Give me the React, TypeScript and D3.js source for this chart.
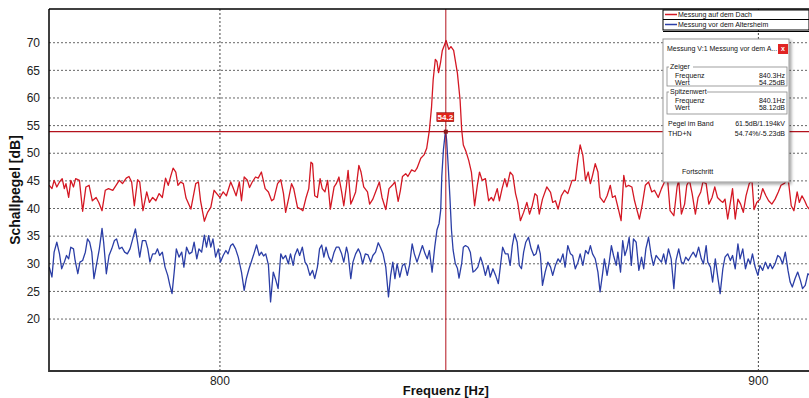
import * as d3 from "d3";

// Frequenzachse und Pegelachse
const freqTicks = [800, 900];
const levelTicks = [20, 25, 30, 35, 40, 45, 50, 55, 60, 65, 70];

const seriesNames = ["Messung auf dem Dach", "Messung vor dem Altersheim"];
const seriesColors = ["#d41824", "#2b3ea6"];

// Messung auf dem Dach  [Hz, dB]
const dach: [number, number][] = [
  [768.3, 44.2], [768.8, 43.6], [769.2, 45.1], [769.7, 43.9], [770.2, 44.8], [770.7, 45.4], [771.1, 43.6], [771.4, 44.5],
  [771.9, 42.0], [772.3, 45.1], [772.8, 43.9], [773.2, 45.4], [773.9, 45.1], [774.5, 39.5], [775.1, 43.9], [775.7, 44.2],
  [776.3, 41.4], [777.0, 42.0], [777.5, 41.1], [778.1, 39.6], [778.7, 43.3], [779.3, 43.6], [780.1, 43.3], [780.7, 44.2],
  [781.3, 45.1], [781.9, 44.5], [782.6, 45.5], [783.1, 45.8], [783.6, 44.8], [784.1, 40.5], [784.7, 45.2], [785.1, 44.8],
  [785.7, 39.6], [786.4, 43.0], [786.9, 41.1], [787.5, 42.0], [788.1, 41.4], [788.7, 42.7], [789.3, 42.0], [789.9, 45.5],
  [790.4, 44.2], [790.9, 46.0], [791.3, 47.3], [791.8, 46.6], [792.2, 44.2], [792.7, 44.8], [793.2, 44.5], [793.7, 41.9],
  [794.6, 39.9], [795.5, 44.5], [796.0, 44.8], [796.4, 41.4], [797.1, 37.7], [797.7, 39.3], [798.3, 40.2], [798.9, 43.3],
  [799.4, 42.7], [800.0, 42.0], [800.6, 43.0], [801.2, 42.3], [802.0, 44.8], [802.5, 43.6], [803.0, 42.3], [803.6, 44.8],
  [804.0, 41.4], [804.5, 45.7], [805.1, 45.1], [805.5, 43.8], [806.0, 44.8], [806.6, 45.7], [807.1, 45.5], [807.7, 46.6],
  [808.4, 43.6], [809.0, 43.0], [809.6, 41.4], [810.0, 41.7], [810.7, 44.5], [811.3, 45.2], [811.8, 42.7], [812.2, 39.3],
  [812.8, 42.0], [813.3, 44.5], [813.7, 43.6], [814.4, 40.2], [815.0, 39.9], [815.4, 39.6], [816.0, 42.0], [816.5, 43.6],
  [816.9, 48.4], [817.2, 48.1], [817.6, 42.3], [818.1, 42.0], [818.6, 45.4], [819.0, 43.6], [819.5, 43.0], [820.0, 45.1],
  [820.5, 39.9], [821.2, 43.9], [821.6, 44.5], [822.1, 45.7], [822.6, 43.0], [823.0, 40.5], [823.5, 44.2], [823.8, 46.9],
  [824.3, 40.8], [824.7, 41.7], [825.2, 43.0], [825.8, 47.8], [826.2, 46.6], [826.7, 43.9], [827.4, 43.0], [827.8, 40.8],
  [828.4, 41.7], [828.9, 43.0], [829.6, 44.8], [830.1, 42.0], [830.8, 39.8], [831.4, 43.6], [832.0, 44.2], [832.5, 44.8],
  [833.1, 41.3], [833.5, 43.2], [833.9, 45.8], [834.5, 46.3], [834.9, 45.8], [835.6, 47.0], [836.2, 46.7], [836.6, 47.3],
  [837.3, 49.1], [837.9, 49.7], [838.4, 50.9], [838.9, 54.2], [839.3, 58.4], [839.6, 63.3], [840.0, 67.0], [840.3, 66.6],
  [840.6, 64.6], [841.0, 66.6], [841.3, 68.6], [841.7, 69.6], [842.0, 70.4], [842.5, 68.8], [842.9, 69.3], [843.4, 68.6],
  [844.1, 64.5], [844.6, 59.6], [844.9, 54.2], [845.2, 51.5], [845.7, 50.3], [846.2, 48.7], [846.7, 46.6], [847.3, 40.5],
  [847.8, 44.2], [848.2, 46.6], [848.7, 45.1], [849.3, 45.4], [849.9, 41.4], [850.4, 42.0], [850.8, 41.4], [851.5, 43.6],
  [851.9, 41.4], [852.4, 43.6], [852.9, 45.4], [853.3, 43.9], [853.9, 46.6], [854.4, 46.0], [854.9, 42.7], [855.3, 41.1],
  [855.8, 37.8], [856.4, 39.3], [857.0, 41.1], [857.5, 39.0], [858.0, 40.5], [858.5, 42.7], [858.9, 42.3], [859.3, 39.0],
  [859.9, 41.7], [860.7, 43.9], [861.4, 42.9], [861.8, 41.1], [862.3, 41.4], [862.8, 39.9], [863.4, 42.3], [864.0, 43.3],
  [864.6, 42.7], [865.4, 45.1], [866.0, 45.1], [866.5, 49.0], [866.9, 51.5], [867.4, 49.6], [867.9, 45.1], [868.4, 46.6],
  [868.8, 44.5], [869.2, 46.0], [869.7, 48.1], [870.2, 46.6], [870.6, 42.0], [871.3, 41.1], [871.9, 42.3], [872.5, 44.2],
  [872.9, 42.0], [873.4, 42.3], [874.0, 39.9], [874.5, 37.8], [875.0, 46.0], [875.4, 43.9], [875.9, 44.2], [876.5, 43.9],
  [877.0, 41.4], [877.4, 39.9], [877.9, 38.1], [878.4, 40.5], [879.0, 44.2], [879.6, 44.8], [880.2, 43.0], [880.7, 43.3],
  [881.4, 42.0], [882.0, 43.6], [882.6, 44.9], [883.1, 45.7], [883.6, 39.6], [884.3, 38.7], [884.9, 43.9], [885.2, 45.1],
  [885.7, 39.0], [886.3, 40.8], [886.7, 44.2], [887.2, 45.1], [887.7, 42.7], [888.3, 39.0], [888.8, 42.0], [889.3, 43.0],
  [889.7, 44.8], [890.3, 44.5], [890.8, 40.8], [891.4, 42.0], [891.9, 43.9], [892.4, 42.0], [893.0, 41.4], [893.4, 41.1],
  [893.8, 41.7], [894.3, 38.1], [894.8, 41.1], [895.2, 43.6], [895.7, 38.1], [896.2, 41.7], [896.7, 40.8], [897.2, 39.3],
  [897.7, 42.3], [898.3, 44.5], [898.8, 45.1], [899.2, 39.8], [899.7, 41.1], [900.3, 41.7], [900.8, 43.6], [901.4, 42.3],
  [901.9, 41.4], [902.5, 40.8], [903.1, 41.7], [903.7, 43.0], [904.2, 44.2], [904.9, 44.6], [905.3, 45.5], [905.6, 44.8],
  [906.1, 40.5], [906.6, 39.6], [907.2, 43.0], [907.6, 41.1], [908.1, 42.3], [908.6, 41.4], [909.0, 40.5], [909.4, 39.9],
];

// Messung vor dem Altersheim  [Hz, dB]
const altersheim: [number, number][] = [
  [768.3, 29.4], [768.8, 27.6], [769.2, 32.1], [769.7, 33.9], [770.2, 31.8], [770.6, 29.1], [771.1, 30.3], [771.5, 31.5],
  [771.9, 30.9], [772.3, 33.0], [772.8, 32.7], [773.1, 30.6], [773.6, 28.2], [774.0, 30.3], [774.5, 30.6], [775.0, 32.1],
  [775.4, 34.5], [775.8, 33.9], [776.2, 32.1], [776.6, 27.3], [777.1, 30.0], [777.6, 32.7], [778.1, 36.4], [778.4, 33.9],
  [778.9, 28.2], [779.4, 31.5], [779.9, 32.7], [780.4, 34.2], [780.8, 34.5], [781.3, 32.7], [781.8, 33.0], [782.3, 32.1],
  [782.8, 31.8], [783.3, 32.7], [783.8, 34.5], [784.3, 36.3], [784.7, 33.9], [785.1, 31.2], [785.6, 34.2], [786.2, 34.2],
  [786.6, 32.7], [787.0, 30.3], [787.5, 31.8], [788.0, 31.8], [788.4, 32.7], [788.8, 31.5], [789.3, 32.1], [789.8, 29.4],
  [790.3, 27.9], [790.7, 26.1], [791.1, 24.6], [791.5, 28.5], [791.9, 32.7], [792.4, 31.2], [792.9, 32.1], [793.3, 29.4],
  [793.8, 33.0], [794.3, 31.8], [794.8, 32.1], [795.2, 33.9], [795.7, 30.9], [796.1, 32.7], [796.6, 32.1], [797.1, 35.2],
  [797.5, 33.0], [797.9, 35.1], [798.3, 33.0], [798.7, 34.5], [799.2, 31.2], [799.7, 32.7], [800.1, 30.3], [800.6, 31.5],
  [801.1, 32.4], [801.5, 31.8], [802.0, 33.3], [802.4, 33.6], [802.9, 32.7], [803.4, 31.2], [804.0, 28.5], [804.5, 25.2],
  [804.9, 27.3], [805.4, 29.1], [805.9, 30.6], [806.3, 31.8], [806.8, 33.4], [807.3, 31.5], [807.7, 32.1], [808.1, 31.4],
  [808.5, 31.8], [809.0, 29.8], [809.4, 23.1], [809.9, 28.5], [810.3, 27.3], [810.8, 25.5], [811.3, 31.8], [811.7, 30.9],
  [812.2, 31.5], [812.7, 30.0], [813.1, 31.8], [813.6, 29.7], [813.9, 31.5], [814.4, 32.7], [814.8, 31.5], [815.3, 33.0],
  [815.8, 30.3], [816.2, 29.7], [816.7, 27.9], [817.2, 28.8], [817.6, 27.3], [818.1, 29.4], [818.5, 32.7], [818.9, 33.4],
  [819.3, 31.2], [819.7, 33.0], [820.2, 31.2], [820.7, 30.3], [821.2, 32.1], [821.6, 33.0], [822.1, 33.0], [822.6, 31.8],
  [823.0, 30.3], [823.5, 33.0], [823.8, 31.8], [824.3, 27.3], [824.7, 30.3], [825.2, 31.8], [825.7, 32.7], [826.1, 31.8],
  [826.5, 30.0], [827.0, 31.8], [827.5, 31.6], [828.0, 30.3], [828.4, 31.5], [828.9, 32.1], [829.4, 33.8], [829.8, 33.0],
  [830.3, 31.8], [830.8, 29.4], [831.3, 24.0], [831.7, 27.9], [832.1, 30.3], [832.5, 27.3], [832.9, 30.0], [833.4, 27.6],
  [833.9, 29.7], [834.3, 30.0], [834.8, 27.9], [835.2, 29.7], [835.7, 33.6], [836.1, 31.8], [836.6, 30.3], [837.1, 31.8],
  [837.6, 33.3], [838.1, 31.8], [838.5, 30.9], [838.9, 32.4], [839.4, 28.5], [839.9, 33.1], [840.3, 36.1], [840.7, 37.3],
  [841.0, 39.7], [841.2, 45.8], [841.5, 50.6], [841.9, 54.2], [842.1, 52.4], [842.4, 47.6], [842.7, 42.2], [843.0, 36.1],
  [843.3, 32.5], [843.7, 30.1], [844.1, 29.2], [844.4, 27.4], [844.9, 30.1], [845.2, 33.0], [845.6, 33.3], [846.1, 33.0],
  [846.5, 32.1], [847.0, 28.5], [847.4, 28.8], [847.9, 29.4], [848.4, 31.2], [848.8, 30.0], [849.3, 27.9], [849.8, 29.7],
  [850.2, 27.6], [850.7, 29.1], [851.2, 27.9], [851.7, 26.4], [852.1, 29.7], [852.5, 33.0], [853.0, 31.8], [853.5, 31.8],
  [853.9, 29.7], [854.3, 33.3], [854.7, 35.4], [855.2, 33.9], [855.6, 29.7], [856.0, 29.1], [856.4, 32.1], [856.8, 33.9],
  [857.3, 34.8], [857.8, 32.7], [858.3, 31.5], [858.7, 31.8], [859.1, 33.4], [859.5, 31.8], [859.9, 26.1], [860.4, 28.5],
  [860.9, 30.3], [861.4, 29.4], [861.8, 27.9], [862.3, 29.7], [862.8, 30.9], [863.2, 30.3], [863.7, 31.8], [864.1, 29.4],
  [864.6, 33.3], [865.1, 31.8], [865.5, 31.5], [866.0, 29.1], [866.5, 30.3], [866.9, 31.8], [867.4, 29.7], [867.9, 32.4],
  [868.4, 31.8], [868.8, 33.3], [869.2, 31.8], [869.7, 30.9], [870.2, 28.5], [870.6, 24.9], [871.1, 28.5], [871.4, 30.9],
  [871.9, 27.9], [872.3, 30.3], [872.7, 33.3], [873.1, 31.5], [873.6, 29.7], [873.9, 32.1], [874.4, 28.5], [874.8, 34.2],
  [875.2, 31.5], [875.6, 32.7], [876.0, 34.8], [876.4, 29.7], [876.8, 34.5], [877.3, 33.9], [877.8, 28.8], [878.3, 31.2],
  [878.7, 29.1], [879.1, 32.7], [879.6, 34.8], [880.1, 31.5], [880.5, 29.7], [881.0, 31.5], [881.5, 30.9], [882.0, 30.3],
  [882.4, 31.8], [882.8, 30.0], [883.3, 32.7], [883.8, 30.9], [884.3, 25.5], [884.7, 30.6], [885.2, 32.7], [885.7, 30.3],
  [886.1, 30.0], [886.5, 31.2], [887.0, 30.6], [887.5, 31.5], [887.9, 32.1], [888.4, 31.2], [888.9, 33.0], [889.4, 30.9],
  [889.8, 30.0], [890.3, 33.3], [890.6, 30.3], [891.1, 29.4], [891.5, 26.7], [892.0, 30.9], [892.5, 27.3], [892.9, 24.6],
  [893.4, 29.1], [893.8, 31.2], [894.3, 31.8], [894.8, 30.6], [895.2, 31.5], [895.7, 29.1], [896.2, 33.6], [896.6, 30.9],
  [897.1, 32.7], [897.6, 29.1], [898.1, 30.9], [898.5, 30.0], [898.9, 31.8], [899.4, 29.4], [899.9, 27.9], [900.3, 29.7],
  [900.8, 28.8], [901.3, 30.3], [901.8, 29.1], [902.2, 30.0], [902.6, 29.1], [903.1, 30.0], [903.6, 31.5], [904.0, 31.2],
  [904.5, 30.0], [905.0, 32.1], [905.5, 28.8], [905.9, 26.7], [906.3, 25.8], [906.8, 27.3], [907.3, 28.5], [907.8, 27.0],
  [908.2, 25.5], [908.7, 26.1], [909.2, 28.2], [909.4, 28.0],
];

// Cursor
const cursorFreq = 841.95;
const cursorLevel = 53.9;
const cursorLabel = "54.2";

// Messfenster
const infoTitle = "Messung V:1 Messung vor dem A...";
const zeigerRows = [["Frequenz", "840.3Hz"], ["Wert", "54.25dB"]];
const spitzenRows = [["Frequenz", "840.1Hz"], ["Wert", "58.12dB"]];
const bandRows = [["Pegel im Band", "61.5dB/1.194kV"], ["THD+N", "54.74%/-5.23dB"]];

const W = 809;
const H = 398;
const left = 49;
const right = 809;
const top = 9;
const bottom = 371;

export default function App() {
  const x = d3.scaleLinear().domain([768.25, 909.4]).range([left, right]);
  const y = d3.scaleLinear().domain([10.6, 76.1]).range([bottom, top]);
  const line = d3.line<[number, number]>().x(d => x(d[0])).y(d => y(d[1]));

  const cx = x(cursorFreq);
  const cy = y(cursorLevel);
  const small = { fontSize: 7, fill: "#111" } as const;

  return (
    <svg width={W} height={H} style={{ position: "absolute", left: 0, top: 0, background: "#fff" }}
      fontFamily="'Liberation Sans', Arial, sans-serif">
      <defs>
        <clipPath id="plot"><rect x={left} y={top} width={right - left} height={bottom - top} /></clipPath>
        <filter id="shadow" x="-10%" y="-10%" width="130%" height="130%">
          <feDropShadow dx="2" dy="2" stdDeviation="1.5" floodColor="#000" floodOpacity="0.35" />
        </filter>
      </defs>

      {/* gitter */}
      {levelTicks.map(t => (
        <line key={t} x1={left} x2={right} y1={y(t)} y2={y(t)} stroke="#666" strokeDasharray="2,2" />
      ))}
      {freqTicks.map(t => (
        <line key={t} x1={x(t)} x2={x(t)} y1={top} y2={bottom} stroke="#444" strokeDasharray="2,2" />
      ))}

      <g clipPath="url(#plot)" fill="none" strokeWidth={1.3} strokeLinejoin="round">
        <path d={line(dach) ?? ""} stroke={seriesColors[0]} />
        <path d={line(altersheim) ?? ""} stroke={seriesColors[1]} />
      </g>

      {/* cursor */}
      <line x1={cx} x2={cx} y1={top} y2={bottom} stroke="#b3121c" strokeWidth={1} />
      <line x1={left} x2={right} y1={cy} y2={cy} stroke="#b3121c" strokeWidth={1.2} />
      <rect x={cx - 2} y={cy - 2} width={4} height={4} fill="#8a1a1a" />
      <rect x={cx - 9} y={cy - 19} width={17} height={9} fill="#e0241c" stroke="#7a0000" strokeWidth={0.5} />
      <text x={cx - 0.5} y={cy - 14.5} dy="0.35em" textAnchor="middle" fontSize={8} fill="#fff" fontWeight="bold">{cursorLabel}</text>

      {/* rahmen */}
      <line x1={left} x2={right} y1={top} y2={top} stroke="#000" strokeWidth={1.5} />
      <line x1={left} x2={left} y1={top} y2={bottom + 1} stroke="#000" strokeWidth={1.5} />
      <line x1={left} x2={right} y1={bottom} y2={bottom} stroke="#333" strokeWidth={2} />

      {/* achsen */}
      {levelTicks.map(t => (
        <text key={t} x={40} y={y(t)} dy="0.35em" textAnchor="end" fontSize={12} fill="#222">{t}</text>
      ))}
      {freqTicks.map(t => (
        <text key={t} x={x(t)} y={381} dy="0.35em" textAnchor="middle" fontSize={12} fill="#222">{t}</text>
      ))}
      <text x={x(cursorFreq)} y={390} dy="0.35em" textAnchor="middle" fontSize={13} fontWeight="bold" fill="#111">Frequenz [Hz]</text>
      <text transform="translate(15,190) rotate(-90)" dy="0.35em" textAnchor="middle" fontSize={14} fontWeight="bold" fill="#111">Schallpegel [dB]</text>

      {/* legende */}
      <g>
        <rect x={663} y={top + 1} width={right - 663} height={20} fill="#fff" stroke="#000" strokeWidth={1} />
        <line x1={663} x2={right} y1={19.5} y2={19.5} stroke="#000" />
        <line x1={663} x2={right} y1={31.5} y2={31.5} stroke="#000" />
        {seriesNames.map((n, i) => (
          <g key={n}>
            <line x1={665} x2={677} y1={14.5 + i * 10} y2={14.5 + i * 10} stroke={seriesColors[i]} strokeWidth={1.5} />
            <text x={678} y={14.5 + i * 10} dy="0.35em" fontSize={7} fill="#111">{n}</text>
          </g>
        ))}
      </g>

      {/* messfenster */}
      <g>
        <rect x={663} y={39} width={126} height={143} fill="#fff" stroke="#999" filter="url(#shadow)" />
        <text x={667} y={49} dy="0.35em" fontSize={7} fill="#111">{infoTitle}</text>
        <rect x={778} y={44} width={10} height={10} fill="#e02424" />
        <text x={783} y={49} dy="0.35em" textAnchor="middle" fontSize={7} fill="#fff" fontWeight="bold">x</text>

        <rect x={667} y={67} width={120} height={19} fill="none" stroke="#888" strokeWidth={0.8} />
        <rect x={669} y={63} width={24} height={8} fill="#fff" />
        <text x={670} y={67} dy="0.35em" {...small}>Zeiger</text>
        {zeigerRows.map((r, i) => (
          <g key={r[0]}>
            <text x={675} y={76 + i * 7} dy="0.35em" {...small}>{r[0]}</text>
            <text x={785} y={76 + i * 7} dy="0.35em" textAnchor="end" {...small}>{r[1]}</text>
          </g>
        ))}

        <rect x={667} y={92} width={120} height={22} fill="none" stroke="#888" strokeWidth={0.8} />
        <rect x={669} y={88} width={38} height={8} fill="#fff" />
        <text x={670} y={92} dy="0.35em" {...small}>Spitzenwert</text>
        {spitzenRows.map((r, i) => (
          <g key={r[0]}>
            <text x={675} y={101 + i * 7} dy="0.35em" {...small}>{r[0]}</text>
            <text x={785} y={101 + i * 7} dy="0.35em" textAnchor="end" {...small}>{r[1]}</text>
          </g>
        ))}

        {bandRows.map((r, i) => (
          <g key={r[0]}>
            <text x={668} y={124 + i * 10} dy="0.35em" {...small}>{r[0]}</text>
            <text x={785} y={124 + i * 10} dy="0.35em" textAnchor="end" {...small}>{r[1]}</text>
          </g>
        ))}
        <text x={682} y={172} dy="0.35em" {...small}>Fortschritt</text>
      </g>
    </svg>
  );
}
